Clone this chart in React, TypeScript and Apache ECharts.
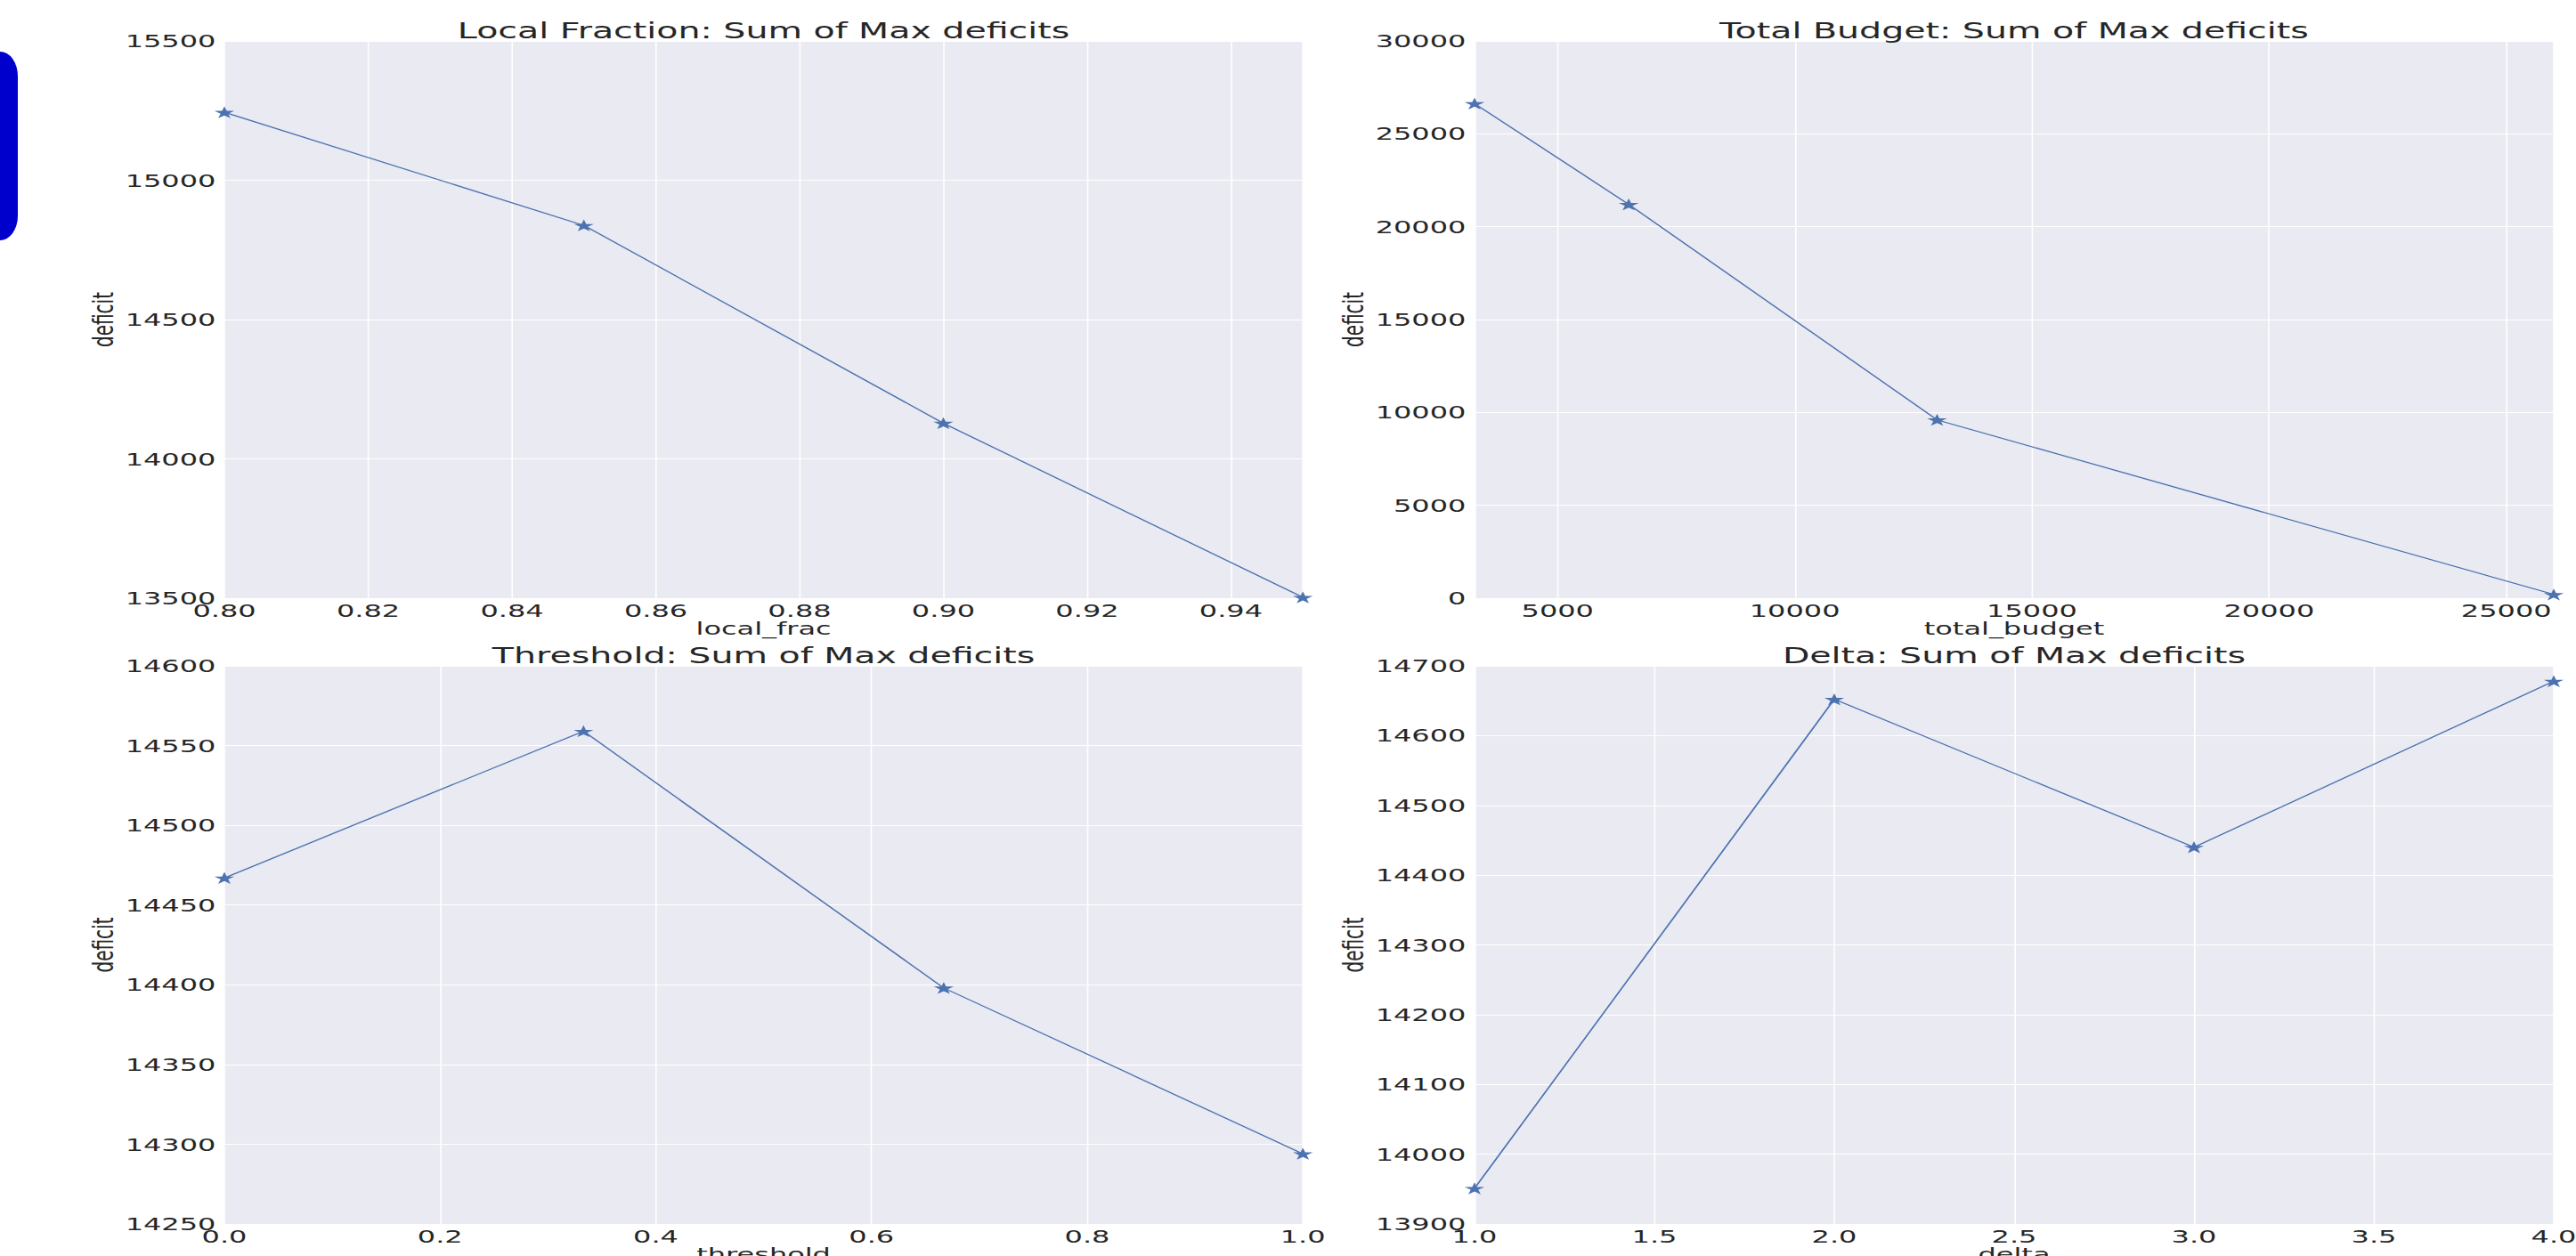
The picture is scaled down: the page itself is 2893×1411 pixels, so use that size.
import React, { useEffect, useRef } from "react";
import * as echarts from "echarts";

// ---- data ----
const titles = [
  "Local Fraction: Sum of Max deficits",
  "Total Budget: Sum of Max deficits",
  "Threshold: Sum of Max deficits",
  "Delta: Sum of Max deficits",
];
const xNames = ["local_frac", "total_budget", "threshold", "delta"];
const yName = "deficit";

const localFrac = [0.8, 0.85, 0.9, 0.95];
const localFracDeficit = [15244, 14838, 14128, 13503];

const totalBudget = [3250, 6500, 13000, 26000];
const totalBudgetDeficit = [26630, 21200, 9600, 200];

const threshold = [0, 0.333, 0.667, 1.0];
const thresholdDeficit = [14467, 14559, 14398, 14294];

const delta = [1, 2, 3, 4];
const deltaDeficit = [13951, 14652, 14440, 14678];

// axis ranges: [min, max, interval]
const localFracX = [0.8, 0.95, 0.02];
const localFracY = [13500, 15500, 500];
const totalBudgetX = [3250, 26000];
const totalBudgetY = [0, 30000, 5000];
const thresholdX = [0, 1, 0.2];
const thresholdY = [14250, 14600, 50];
const deltaX = [1, 4, 0.5];
const deltaY = [13900, 14700, 100];

// ---- styling / layout ----
const S = 1.6; // horizontal stretch of the reference
const W = 2893 / S;
const H = 1411;
const FONT = "DejaVu Sans";
const TEXT = "#262626";
const BLUE = "#4C72B0";
const STAR =
  "path://M0,-1L0.2245,-0.309L0.9511,-0.309L0.3633,0.118L0.5878,0.809L0,0.382L-0.5878,0.809L-0.3633,0.118L-0.9511,-0.309L-0.2245,-0.309Z";

const grids = [
  { left: 157.5, top: 46, width: 757, height: 626 },
  { left: 1035, top: 46, width: 757.5, height: 626 },
  { left: 157.5, top: 748, width: 757, height: 627 },
  { left: 1035, top: 748, width: 757.5, height: 627 },
];

const panels = [
  { xs: localFrac, ys: localFracDeficit, xr: localFracX, yr: localFracY, dig: 2 },
  { xs: totalBudget, ys: totalBudgetDeficit, xr: totalBudgetX, yr: totalBudgetY, dig: 0 },
  { xs: threshold, ys: thresholdDeficit, xr: thresholdX, yr: thresholdY, dig: 1 },
  { xs: delta, ys: deltaDeficit, xr: deltaX, yr: deltaY, dig: 1 },
];

export default function App() {
  const ref = useRef<HTMLDivElement>(null);
  useEffect(() => {
    if (!ref.current) return;
    const chart = echarts.init(ref.current, null, { renderer: "svg" });
    const labelStyle = { fontFamily: FONT, fontSize: 20, color: TEXT };
    const option: any = {
      animation: false,
      title: panels.map((p, i) => ({
        text: titles[i],
        left: grids[i].left + grids[i].width / 2,
        top: i < 2 ? 22.1 : 724.1,
        textAlign: "center",
        padding: 0,
        textStyle: { fontFamily: FONT, fontSize: 24.7, fontWeight: "normal", color: TEXT },
      })),
      grid: grids.map((g) => ({
        ...g,
        show: true,
        backgroundColor: "#EAEAF2",
        borderWidth: 0,
        containLabel: false,
        outerBoundsMode: "none",
      })),
      xAxis: panels.map((p, i) => ({
        type: "value",
        gridIndex: i,
        min: p.xr[0],
        max: p.xr[1],
        ...(p.xr.length > 2 ? { interval: p.xr[2] } : { splitNumber: 5 }),
        name: xNames[i],
        nameLocation: "middle",
        nameGap: 24,
        nameMoveOverlap: false,
        nameTextStyle: labelStyle,
        axisLine: { show: false },
        axisTick: { show: false },
        splitLine: { show: true, lineStyle: { color: "#ffffff", width: 1 } },
        axisLabel: {
          ...labelStyle,
          margin: 4,
          showMinLabel: i === 1 ? false : true,
          showMaxLabel: i === 0 || i === 1 ? false : true,
          formatter: (v: number) => (p.dig === 0 ? String(Math.round(v)) : v.toFixed(p.dig)),
        },
      })),
      yAxis: panels.map((p, i) => ({
        type: "value",
        gridIndex: i,
        min: p.yr[0],
        max: p.yr[1],
        interval: p.yr[2],
        name: yName,
        nameLocation: "middle",
        nameGap: 75,
        nameMoveOverlap: false,
        nameTextStyle: labelStyle,
        axisLine: { show: false },
        axisTick: { show: false },
        splitLine: { show: true, lineStyle: { color: "#ffffff", width: 1 } },
        axisLabel: {
          ...labelStyle,
          margin: 6,
          formatter: (v: number) => String(Math.round(v)),
        },
      })),
      series: panels.map((p, i) => ({
        type: "line",
        xAxisIndex: i,
        yAxisIndex: i,
        data: p.xs.map((x, k) => [x, p.ys[k]]),
        symbol: STAR,
        symbolSize: 14,
        symbolKeepAspect: true,
        showSymbol: true,
        color: BLUE,
        itemStyle: { color: BLUE },
        lineStyle: { color: BLUE, width: 1.2 },
        clip: true,
      })),
      graphic: [
        {
          type: "rect",
          x: 0,
          y: 58,
          scaleY: 2.2,
          shape: { x: -20, y: 0, width: 32.5, height: 212 / 2.2, r: 12.5 },
          style: { fill: "#0000CD" },
        },
      ],
    };
    chart.setOption(option);
    return () => chart.dispose();
  }, []);
  return (
    <div
      ref={ref}
      style={{
        position: "absolute",
        left: 0,
        top: 0,
        width: W + "px",
        height: H + "px",
        transform: `scaleX(${S})`,
        transformOrigin: "0 0",
      }}
    />
  );
}
